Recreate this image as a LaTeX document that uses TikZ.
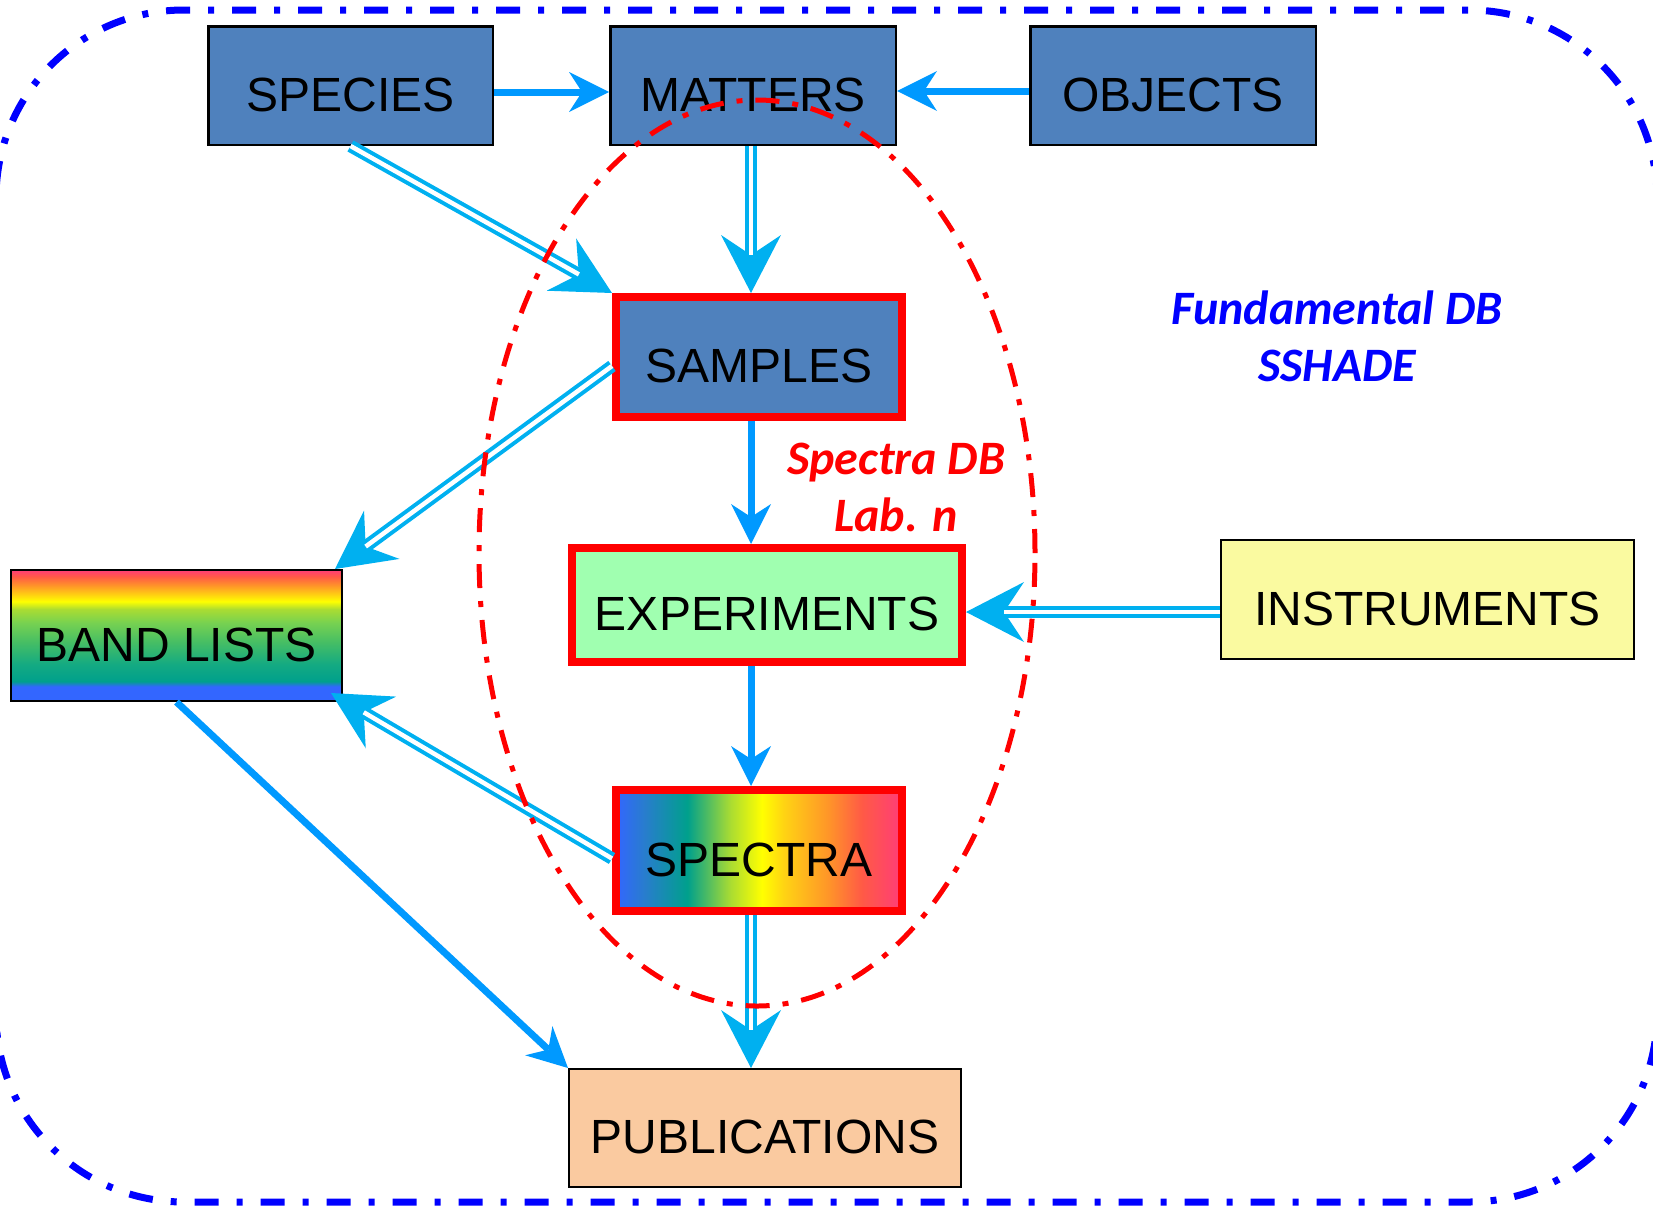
\documentclass[tikz,border=0pt]{standalone}
\usepackage{fontspec}
\setmainfont{Liberation Sans}
\newfontfamily\calib{Carlito}
\usetikzlibrary{arrows.meta,calc}
\definecolor{boxblue}{RGB}{79,129,189}
\definecolor{expgreen}{RGB}{160,255,176}
\definecolor{insyellow}{RGB}{250,250,160}
\definecolor{pubpeach}{RGB}{250,202,160}
\definecolor{arrA}{RGB}{0,153,255}
\definecolor{arrB}{RGB}{0,176,240}
\definecolor{rbBlue}{RGB}{51,102,255}
\definecolor{rbBlueT}{RGB}{40,125,205}
\definecolor{rbTeal}{RGB}{0,160,140}
\definecolor{rbTealG}{RGB}{20,170,130}
\definecolor{rbGreen}{RGB}{70,190,100}
\definecolor{rbLGreen}{RGB}{120,210,80}
\definecolor{rbYG}{RGB}{170,220,50}
\definecolor{rbYellow}{RGB}{255,255,0}
\definecolor{rbLOrange}{RGB}{255,210,20}
\definecolor{rbOrange}{RGB}{255,150,40}
\definecolor{rbROrange}{RGB}{255,90,70}
\definecolor{rbPink}{RGB}{255,60,120}
\pgfdeclarehorizontalshading{spectrumH}{100bp}{color(0bp)=(rbBlue); color(25bp)=(rbBlue); color(30bp)=(rbBlueT); color(37.5bp)=(rbTeal); color(45bp)=(rbYG); color(50.5bp)=(rbYellow); color(54.5bp)=(rbLOrange); color(62bp)=(rbOrange); color(68bp)=(rbROrange); color(75bp)=(rbPink); color(100bp)=(rbPink)}
\pgfdeclareverticalshading{spectrumV}{100bp}{color(0bp)=(rbBlue); color(30.5bp)=(rbBlue); color(32.5bp)=(rbTeal); color(39bp)=(rbTealG); color(47.5bp)=(rbGreen); color(55bp)=(rbLGreen); color(60bp)=(rbYG); color(63bp)=(rbYellow); color(69bp)=(rbOrange); color(72.5bp)=(rbROrange); color(75bp)=(rbPink); color(100bp)=(rbPink)}
\tikzset{
  bx/.style={rectangle, inner sep=0pt, font=\fontsize{48}{57}\selectfont, text height=51pt, text depth=0pt},
  bluebox/.style={bx, draw=black, line width=2.5pt, fill=boxblue},
  redbox/.style={bx, draw=red, line width=8pt},
  plainbox/.style={bx, draw=black, line width=2pt},
  sarrow/.style={draw=arrA, line width=7pt, -{Stealth[length=40pt,width=40pt,inset=13pt,line width=0pt]}},
  dhead/.style={draw=arrB, line width=1pt, -{Stealth[length=58pt,width=60pt,inset=20pt,line width=0pt]}},
  dbody/.style={draw=arrB, double=white, line width=4pt, double distance=4.5pt, shorten >=38pt},
  lbl/.style={font=\calib\bfseries\itshape\fontsize{48}{57}\selectfont, align=center},
  frameline/.style={draw=blue, line width=7pt, dash pattern=on 24pt off 18pt on 6pt off 18pt, rounded corners=188pt},
  labline/.style={draw=red, line width=5pt, dash pattern=on 24pt off 13pt on 6pt off 13pt}
}
\begin{document}
\begin{tikzpicture}[x=1pt,y=-1pt]
\useasboundingbox (0,0) rectangle (1653,1208);
\begin{scope}
\clip (0,0) rectangle (1653,1208);
\draw[frameline] (-4,10) rectangle (1657,1202);
\end{scope}
\node[bluebox, minimum width=284.5pt, minimum height=118.5pt] (species) at (350.5,85.5) {SPECIES};
\node[bluebox, minimum width=285.5pt, minimum height=118.5pt] (matters) at (753,85.5) {MATTERS};
\node[bluebox, minimum width=285.5pt, minimum height=118.5pt] (objects) at (1173,85.5) {OBJECTS};
\node[redbox, fill=boxblue, minimum width=286pt, minimum height=120pt] (samples) at (759,357) {SAMPLES};
\node[redbox, fill=expgreen, minimum width=390pt, minimum height=114pt] (experiments) at (767,605) {EXPERIMENTS};
\node[redbox, shade, shading=spectrumH, minimum width=286pt, minimum height=121pt] (spectra) at (759,850.5) {SPECTRA};
\node[plainbox, shade, shading=spectrumV, minimum width=331pt, minimum height=131pt] (bands) at (176.5,635.5) {BAND LISTS};
\node[plainbox, fill=insyellow, minimum width=413pt, minimum height=119pt] (instruments) at (1427.5,599.5) {INSTRUMENTS};
\node[plainbox, fill=pubpeach, minimum width=392pt, minimum height=118pt] (publications) at (765,1128) {PUBLICATIONS};
\coordinate (colx) at (751,0);
\coordinate (rowy) at (0,612);
% single arrows
\draw[sarrow] ([yshift=-6.5pt]species.east) -- ([yshift=-6.5pt]matters.west);
\draw[sarrow] ([yshift=-5.5pt]objects.west) -- ([yshift=-5.5pt]matters.east);
\draw[sarrow] (samples.south -| colx) -- (experiments.north -| colx);
\draw[sarrow] (experiments.south -| colx) -- (spectra.north -| colx);
\draw[sarrow] (bands.south) -- (publications.north west);
% double arrows
\draw[dhead] (matters.south -| colx) -- (samples.north -| colx);
\draw[dbody] (matters.south -| colx) -- (samples.north -| colx);
\draw[dhead] (species.south) -- (samples.north west);
\draw[dbody] (species.south) -- (samples.north west);
\draw[dhead] ([yshift=-9pt]samples.west) -- ([xshift=-8pt]bands.north east);
\draw[dbody] ([yshift=-9pt]samples.west) -- ([xshift=-8pt]bands.north east);
\draw[dhead] (instruments.west |- rowy) -- (experiments.east |- rowy);
\draw[dbody] (instruments.west |- rowy) -- (experiments.east |- rowy);
\draw[dhead] ([yshift=-8pt]spectra.west) -- ([xshift=-12pt,yshift=9pt]bands.south east);
\draw[dbody] ([yshift=-8pt]spectra.west) -- ([xshift=-12pt,yshift=9pt]bands.south east);
\draw[dhead] (spectra.south -| colx) -- (publications.north -| colx);
\draw[dbody] (spectra.south -| colx) -- (publications.north -| colx);
% lab ellipse
\draw[labline] (757,553) ellipse [x radius=278pt, y radius=453pt];
% labels
\node[lbl, text=blue] (fdb) at (1337,336) {Fundamental DB\\SSHADE};
\node[lbl, text=red] (sdb) at (896,487) {Spectra DB\\Lab. n};
\end{tikzpicture}
\end{document}
